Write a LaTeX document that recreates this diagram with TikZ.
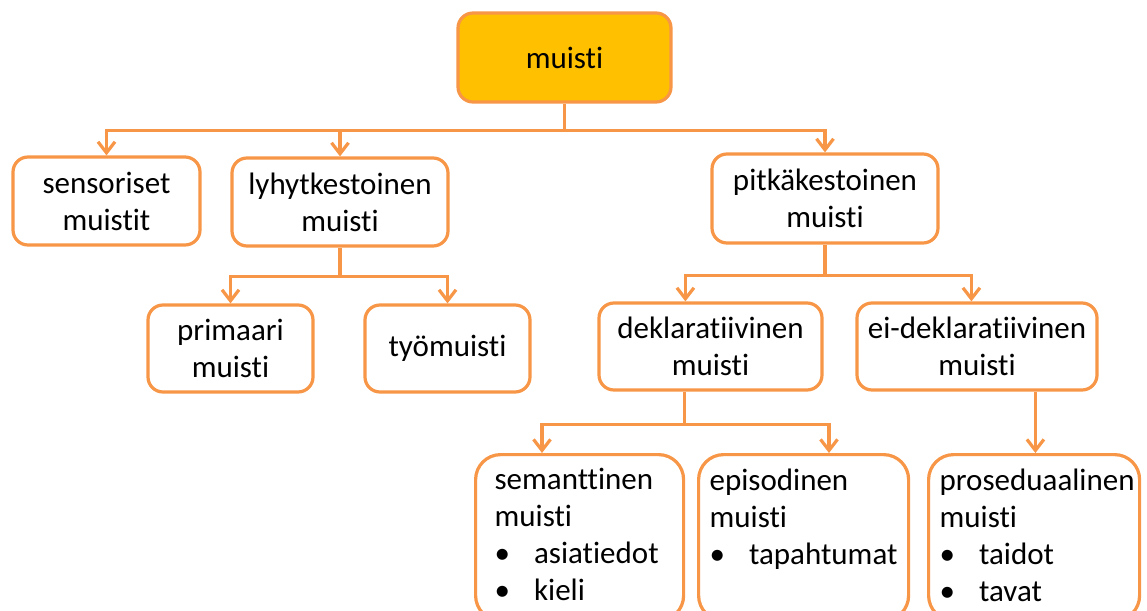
\documentclass[tikz,border=0pt]{standalone}
\usepackage{fontspec}
\setmainfont{Carlito}[Ligatures={NoCommon}]
\usetikzlibrary{arrows.meta,calc}
\definecolor{accent}{HTML}{F79646}
\definecolor{gold}{HTML}{FFC000}
\newcommand{\firstline}{\rule[-9pt]{0pt}{27pt}}
\newcommand{\bul}{\makebox[39.5pt][l]{•}}
\begin{document}
\begin{tikzpicture}[x=1pt,y=-1pt,
  every node/.style={font=\fontsize{31}{37}\selectfont, text=black},
  cbox/.style={draw=accent, line width=3.2pt, rounded corners=15pt, fill=white,
    inner sep=0pt, align=center},
  bbox/.style={draw=accent, line width=3.2pt, rounded corners=25pt, fill=white,
    inner ysep=0pt, anchor=north west},
  link/.style={draw=accent, line width=3.2pt},
  arr/.style={link, -{Straight Barb[length=11pt,width=17pt]}}]
\useasboundingbox (0,0) rectangle (1147,610);
\clip (0,0) rectangle (1147,610);

% nodes
\node[cbox, fill=gold, minimum width=213pt, minimum height=89pt] (muisti) at (564.5,57.5) {muisti};
\node[cbox, minimum width=187pt, minimum height=88pt] (sens) at (106.5,201) {sensoriset\\muistit};
\node[cbox, minimum width=216pt, minimum height=88pt] (lyhyt) at (340,202) {lyhytkestoinen\\muisti};
\node[cbox, minimum width=226pt, minimum height=89pt] (pitka) at (825,198.5) {pitkäkestoinen\\muisti};
\node[cbox, minimum width=165pt, minimum height=87pt] (prim) at (230.5,348.5) {primaari\\muisti};
\node[cbox, minimum width=165pt, minimum height=87pt] (tyo) at (447.5,348.5) {työmuisti};
\node[cbox, minimum width=223pt, minimum height=87pt] (dekl) at (710.5,346.5) {deklaratiivinen\\muisti};
\node[cbox, minimum width=240pt, minimum height=87pt] (eidekl) at (977,346.5) {ei-deklaratiivinen\\muisti};

\node[bbox, inner xsep=19pt] (sem) at (474,453) {\begin{minipage}[t][166pt][t]{170pt}\hyphenpenalty=10000\raggedright
\vspace*{14pt}\firstline semanttinen\\muisti\\\bul asiatiedot\\\bul kieli\end{minipage}};
\node[bbox, inner xsep=11pt] (epi) at (697,453) {\begin{minipage}[t][166pt][t]{188pt}\hyphenpenalty=10000\raggedright
\vspace*{14pt}\firstline episodinen\\muisti\\\bul tapahtumat\end{minipage}};
\node[bbox, inner xsep=11pt] (pros) at (927,453) {\begin{minipage}[t][166pt][t]{189pt}\hyphenpenalty=10000\raggedright
\vspace*{14pt}\firstline proseduaalinen\\muisti\\\bul taidot\\\bul tavat\end{minipage}};

% connectors
\coordinate (j1) at ($(muisti.south)+(0,27)$);
\draw[link] (muisti.south) -- (j1);
\draw[arr] (j1) -| (sens.north);
\draw[arr] (j1) -| (lyhyt.north);
\draw[arr] (j1) -| (pitka.north);

\coordinate (j2) at ($(lyhyt.south)+(0,29)$);
\draw[link] (lyhyt.south) -- (j2);
\draw[arr] (j2) -| (prim.north);
\draw[arr] (j2) -| (tyo.north);

\coordinate (j3) at ($(pitka.south)+(0,31)$);
\coordinate (dk) at ($(dekl.north west)+(88,0)$);
\coordinate (ek) at ($(eidekl.north west)+(116,0)$);
\draw[link] (pitka.south) -- (j3);
\draw[arr] (j3) -| (dk);
\draw[arr] (j3) -| (ek);

\coordinate (dd) at ($(dekl.south west)+(87,0)$);
\coordinate (j4) at ($(dd)+(0,33)$);
\coordinate (sk) at ($(sem.north west)+(68,0)$);
\coordinate (pk) at ($(epi.north west)+(132,0)$);
\draw[link] (dd) -- (j4);
\draw[arr] (j4) -| (sk);
\draw[arr] (j4) -| (pk);

\coordinate (ed) at ($(eidekl.south west)+(180,0)$);
\draw[arr] (ed) -- (ed |- pros.north);
\end{tikzpicture}
\end{document}
